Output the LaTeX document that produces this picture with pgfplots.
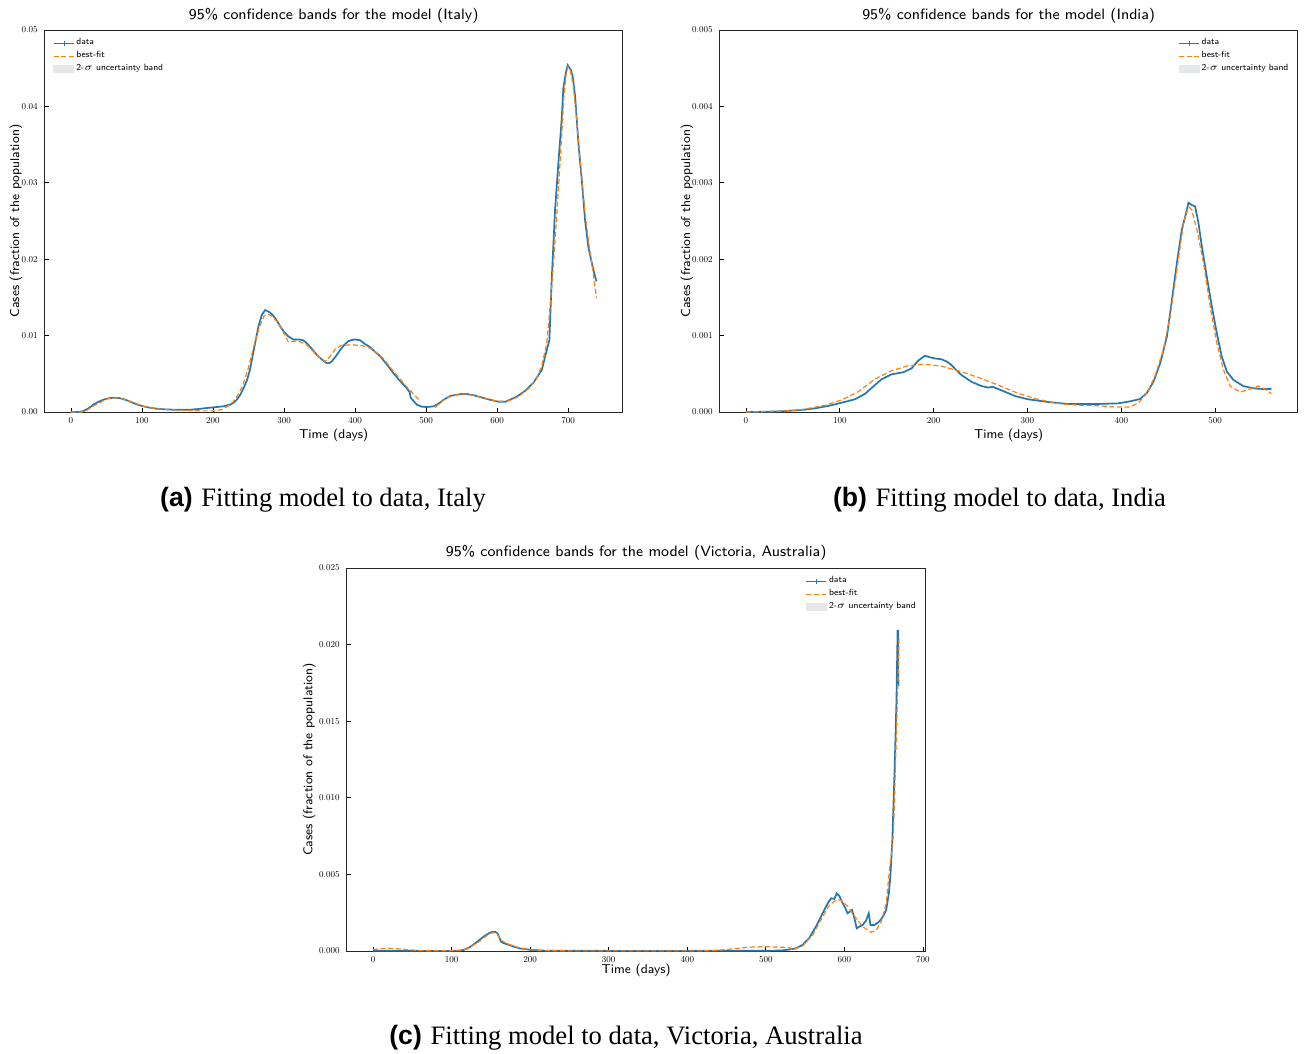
\documentclass[border=0pt]{standalone}
\usepackage{fontspec}
\usepackage{pgfplots}
\pgfplotsset{compat=1.18}
\newfontfamily\capserif{Liberation Serif}
\newfontfamily\capsans{Liberation Sans}
\newfontfamily\tickfont{lmroman10-regular.otf}
\definecolor{mplblue}{HTML}{1F77B4}
\definecolor{mplorange}{HTML}{FF7F0E}
\definecolor{bandgray}{HTML}{E5E7EA}
\pgfplotsset{
  every axis title shift=0pt,
  myax/.style={
    scale only axis,
    axis line style={black!85, line width=0.5pt},
    tick align=inside, xtick pos=bottom, ytick pos=left,
    major tick length=2pt,
    tick style={black, line width=0.4pt},
    ticklabel style={font=\tickfont\fontsize{4.5}{5}\selectfont},
    /pgf/number format/assume math mode=true,
    xticklabel style={yshift=0.6pt},
    xlabel style={font=\sffamily\fontsize{6.4}{7.5}\selectfont},
    ylabel style={font=\sffamily\fontsize{6.4}{7.5}\selectfont},
    title style={font=\sffamily\fontsize{7.5}{8.5}\selectfont},
    ymin=0, scaled y ticks=false, scaled x ticks=false,
    unbounded coords=jump,
    legend style={draw=none, fill=none, inner sep=0pt, outer sep=0pt,
      font=\sffamily\fontsize{4.5}{5}\selectfont, row sep=0pt,
      nodes={inner sep=0.9pt}},
    legend cell align=left,
  },
  dataline/.style={mplblue, line width=0.85pt,
    legend image code/.code={\draw[mplblue,line width=0.8pt] (0pt,0pt) -- (10pt,0pt);
      \draw[mplblue,line width=0.3pt] (5pt,-1.1pt) -- (5pt,1.1pt);}},
  fitline/.style={mplorange, line width=0.6pt, dash pattern=on 2.5pt off 1.3pt,
    legend image code/.code={\draw[mplorange, line width=0.6pt, dash pattern=on 2.5pt off 1.3pt] (0pt,0pt) -- (10pt,0pt);}},
  bandleg/.style={legend image code/.code={\fill[bandgray] (0pt,-1.8pt) rectangle (10pt,1.8pt);}},
}
\begin{document}
\begin{tikzpicture}
\useasboundingbox (0,0) rectangle (654pt,-527pt);
% ---------------- (a) Italy ----------------
\begin{axis}[myax,
  at={(22.35pt,-206pt)}, anchor=south west,
  width=289pt, height=191pt,
  xmin=-37, xmax=777, ymax=0.05,
  xtick={0,100,200,300,400,500,600,700},
  ytick={0,0.01,0.02,0.03,0.04,0.05},
  yticklabel style={/pgf/number format/.cd, fixed, fixed zerofill, precision=2},
  title={95\% confidence bands for the model (Italy)},
  title style={at={(axis description cs:0.5,1.0366)}, anchor=center},
  xlabel={Time (days)},
  xlabel style={at={(axis description cs:0.5,-0.060)}, anchor=center},
  ylabel={Cases (fraction of the population)},
  ylabel style={at={(axis description cs:-0.0497,0.5)}, anchor=center},
  legend style={at={(axis description cs:0.0144,0.982)}, anchor=north west},
]
\addplot[dataline] coordinates {
(0,0) (10,0) (17,0.0001) (25,0.0005) (31.5,0.00096) (38,0.0013) (45.6,0.0016)
(52,0.00178) (59.7,0.00187) (67,0.00183) (73.8,0.0017) (81,0.00145) (87.9,0.00117)
(95,0.00093) (102,0.00074) (110,0.00058) (120.7,0.00043) (132,0.00035) (144,0.0003)
(156,0.00029) (168,0.0003) (180,0.0004) (191,0.00052) (205,0.00065) (215,0.00075)
(224,0.00096) (229,0.0012) (233.5,0.0016) (238,0.0022) (243,0.0031) (248,0.0042)
(252,0.0055) (257,0.0079) (264,0.0112) (268.7,0.0127) (273.4,0.01335) (277,0.0132)
(280.5,0.0130) (284,0.0127) (287.5,0.0123) (291,0.0118) (294.6,0.0112) (300,0.0105)
(306,0.0099) (313,0.0095) (320,0.0095) (327,0.0094) (332,0.0090) (339,0.0083)
(346,0.0075) (353,0.0069) (360,0.0064) (364,0.0064) (367,0.0066) (373,0.0073)
(379,0.0081) (385,0.0088) (391,0.0093) (399,0.0095) (407,0.0094) (414,0.0089)
(421,0.0085) (428,0.0079) (435.5,0.0073) (445,0.0062) (454,0.0051) (463,0.0041)
(473,0.0031) (477,0.0026) (478,0.0020) (480,0.0017) (487,0.00096) (494,0.0007)
(501,0.00065) (510.6,0.00074) (518,0.0011) (524.7,0.0016) (534,0.0021) (543.5,0.00226)
(550,0.00236) (557.6,0.00235) (567,0.0022) (576,0.00196) (590,0.0016) (602,0.00135)
(612,0.00135) (627.7,0.0020) (640,0.0028) (651,0.0038) (663,0.0055) (670,0.0081)
(673.7,0.0094) (677,0.0173) (681.7,0.0264) (686.4,0.0326) (691,0.0382) (693.4,0.0424)
(696.7,0.0443) (699.5,0.0454) (703.8,0.0448) (706.6,0.0439) (710,0.0413) (714.6,0.0352)
(719.3,0.0304) (724,0.0251) (728.6,0.0216) (734.7,0.0190) (739.9,0.0171)
};
\addlegendentry{data}
\addplot[fitline] coordinates {
(0,0) (15,0) (22,0.0002) (30,0.0007) (40,0.0012) (50,0.0017) (60,0.00185) (70,0.00178)
(80,0.0015) (90,0.0012) (100,0.0008) (110,0.00058) (120,0.00042) (140,0.0003)
(160,0.00022) (180,0.00015) (200,0.00015) (212,0.0003) (220,0.0007) (228,0.0013)
(235,0.0022) (242,0.0035) (250,0.0058) (258,0.0088) (265,0.0110) (272,0.0126)
(278,0.0128) (284,0.0125) (292,0.0116) (300,0.0103) (306,0.0092) (320,0.0093)
(332,0.0088) (346,0.0075) (358,0.0066) (365,0.0073) (372,0.0082) (380,0.0087)
(395,0.0088) (410,0.0087) (420,0.0084) (430,0.0078) (440,0.0070) (450,0.0058)
(460,0.0047) (470,0.0036) (480,0.0026) (490,0.0016) (500,nan) (513,0.0006)
(520,0.0012) (530,0.0019) (545,0.0023) (555,0.00238) (565,0.0022) (580,0.0019)
(600,0.0014) (615,0.0014) (630,0.0020) (645,0.0031) (655,0.0043) (663,0.0060)
(670,0.0090) (675,0.0140) (680,0.0200) (685,0.0270) (690,0.0345) (694,0.0410)
(697,0.0440) (700,0.0452) (703,0.0448) (707,0.0430) (712,0.0385) (718,0.0320)
(724,0.0260) (730,0.0215) (735,0.0185) (740,0.0149)
};
\addlegendentry{best-fit}
\addlegendimage{bandleg}
\addlegendentry{2-$\sigma$ uncertainty band}
\end{axis}
% ---------------- (b) India ----------------
\begin{axis}[myax,
  at={(359.85pt,-206pt)}, anchor=south west,
  width=289pt, height=191pt,
  xmin=-28, xmax=588, ymax=0.005,
  xtick={0,100,200,300,400,500},
  ytick={0,0.001,0.002,0.003,0.004,0.005},
  yticklabel style={/pgf/number format/.cd, fixed, fixed zerofill, precision=3},
  title={95\% confidence bands for the model (India)},
  title style={at={(axis description cs:0.5,1.0366)}, anchor=center},
  xlabel={Time (days)},
  xlabel style={at={(axis description cs:0.5,-0.060)}, anchor=center},
  ylabel={Cases (fraction of the population)},
  ylabel style={at={(axis description cs:-0.0566,0.5)}, anchor=center},
  legend style={at={(axis description cs:0.987,0.982)}, anchor=north east},
]
\addplot[dataline] coordinates {
(0,0) (20,0.000003) (38,0.00001) (59,0.000026) (73.5,0.000048) (87.7,0.000079)
(102,0.000122) (116,0.000166) (126.7,0.000236) (137.4,0.000353) (144.5,0.000428)
(155,0.000493) (167.6,0.00052) (176.4,0.00057) (183.5,0.000672) (190.6,0.000737)
(196,0.000716) (202,0.0007) (208.4,0.00069) (214,0.00066) (219,0.000615) (224,0.00055)
(229.7,0.000484) (235,0.00044) (240,0.000397) (251,0.00034) (258,0.00032) (263,0.00033)
(269,0.0003) (275.8,0.000266) (286.5,0.00021) (300.7,0.000166) (322,0.000131)
(343,0.000105) (375,0.000105) (396.5,0.000113) (409.6,0.00014) (420,0.00017)
(427.3,0.00025) (434.4,0.0004) (441.5,0.00064) (448.6,0.00099) (454,0.00147)
(459.2,0.00195) (464.5,0.00239) (469,0.0026) (471.6,0.00274) (475,0.00271)
(478.7,0.00269) (482.3,0.00247) (485.8,0.00217) (491,0.00178) (496.5,0.00138)
(501.8,0.00103) (507,0.00073) (512.4,0.00053) (519.5,0.00042) (530,0.00034)
(540.8,0.00031) (551.4,0.0003) (560,0.0003)
};
\addlegendentry{data}
\addplot[fitline] coordinates {
(0,0) (38,0.00001) (59,0.00003) (84,0.000087) (102,0.000157) (119.6,0.000266)
(137.4,0.00043) (155,0.00054) (173,0.000606) (190.6,0.000624) (208.4,0.0006)
(226,0.00054) (247.4,0.000454) (268.7,0.000353) (290,0.000244) (311,0.000166)
(336,0.000105) (357.5,0.000087) (377.7,0.00008) (395,0.000065) (409.6,0.000065)
(418.4,0.00012) (427.3,0.00025) (436,0.00047) (445,0.00082) (452,0.00125)
(459.2,0.00186) (466.3,0.00247) (471.6,0.00269) (475,0.00265) (480.5,0.00239)
(487.6,0.00195) (494.7,0.00138) (501.8,0.0009) (508.9,0.00055) (516,0.00034)
(526.6,0.00026) (537,0.0003) (546,0.00034) (553,0.0003) (560,0.00024)
};
\addlegendentry{best-fit}
\addlegendimage{bandleg}
\addlegendentry{2-$\sigma$ uncertainty band}
\end{axis}
% ---------------- (c) Victoria ----------------
\begin{axis}[myax,
  at={(173.35pt,-475.5pt)}, anchor=south west,
  width=289.5pt, height=191.5pt,
  xmin=-33.5, xmax=703.5, ymax=0.025,
  xtick={0,100,200,300,400,500,600,700},
  ytick={0,0.005,0.01,0.015,0.02,0.025},
  yticklabel style={/pgf/number format/.cd, fixed, fixed zerofill, precision=3},
  title={95\% confidence bands for the model (Victoria, Australia)},
  title style={at={(axis description cs:0.5,1.039)}, anchor=center},
  xlabel={Time (days)},
  xlabel style={at={(axis description cs:0.5,-0.051)}, anchor=center},
  ylabel={Cases (fraction of the population)},
  ylabel style={at={(axis description cs:-0.065,0.5)}, anchor=center},
  legend style={at={(axis description cs:0.986,0.982)}, anchor=north east},
]
\addplot[dataline] coordinates {
(0,0.00002) (50,0.00001) (100,0.00001) (110,0.00003) (115.7,0.00007) (123,0.00025)
(130,0.0005) (136,0.00075) (141.9,0.00098) (149,0.0012) (153,0.00126) (156,0.00124)
(158.6,0.00115) (161,0.00085) (163,0.0006) (168,0.00048) (172.9,0.0004) (180,0.00027)
(187,0.00017) (201,0.00007) (220,0.00002) (300,0.00001) (400,0.00001) (500,0.00002)
(520,0.00003) (529.8,0.0001) (538,0.00017) (546.8,0.0004) (555,0.00083) (563.8,0.00159)
(572.3,0.00246) (578.7,0.00311) (583,0.00344) (587.2,0.0034) (590.2,0.00376)
(593.6,0.00359) (597.9,0.00311) (601.3,0.00279) (604,0.00246) (607,0.00257)
(609.8,0.00268) (612.8,0.00213) (615.7,0.00148) (619,0.00159) (623.4,0.0017)
(627.7,0.0020) (631,0.00246) (633.2,0.0017) (638.3,0.0017) (642.6,0.00185)
(645.5,0.0020) (649,0.00224) (653.2,0.00268) (656.6,0.00376) (658.7,0.0050)
(661,0.0072) (664,0.0120) (666.3,0.0164) (667.7,0.0209) (668.3,0.0209) (668.8,0.0173)
};
\addlegendentry{data}
\addplot[fitline] coordinates {
(0,0.0001) (10,0.00015) (20,0.00018) (30,0.00015) (45,0.00008) (60,0.00003) (80,0.00001)
(110,0.00003) (120,0.00015) (134.8,0.0006) (142,0.0009) (149,0.00115) (153,0.0012)
(158,0.0011) (163,0.0007) (170,0.0005) (177.6,0.00035) (187,0.0002) (196.7,0.0001)
(210,0.00003) (250,0.00001) (420,0.00001) (440,0.00005) (463,0.00017) (480,0.00025)
(496.7,0.00028) (515,0.00026) (530,0.00022) (534,0.00007) (546.8,0.00033)
(559.6,0.00104) (572.3,0.00224) (580.9,0.003) (589.4,0.00333) (595.7,0.00333)
(604.3,0.0029) (614.9,0.00213) (623.4,0.00159) (634,0.00122) (640.4,0.00137)
(646.8,0.00191) (653.2,0.00311) (657.4,0.00529) (662.5,0.0076) (666.2,0.0142)
(669.7,0.0204)
};
\addlegendentry{best-fit}
\addlegendimage{bandleg}
\addlegendentry{2-$\sigma$ uncertainty band}
\end{axis}
% ---------------- captions ----------------
\node[font=\fontsize{13.3}{15}\selectfont] at (161.5pt,-250pt)
  {{\capsans\bfseries (a)} {\capserif Fitting model to data, Italy}};
\node[font=\fontsize{13.3}{15}\selectfont] at (499.75pt,-250pt)
  {{\capsans\bfseries (b)} {\capserif Fitting model to data, India}};
\node[font=\fontsize{13.3}{15}\selectfont] at (313pt,-519pt)
  {{\capsans\bfseries (c)} {\capserif Fitting model to data, Victoria, Australia}};
\end{tikzpicture}
\end{document}
